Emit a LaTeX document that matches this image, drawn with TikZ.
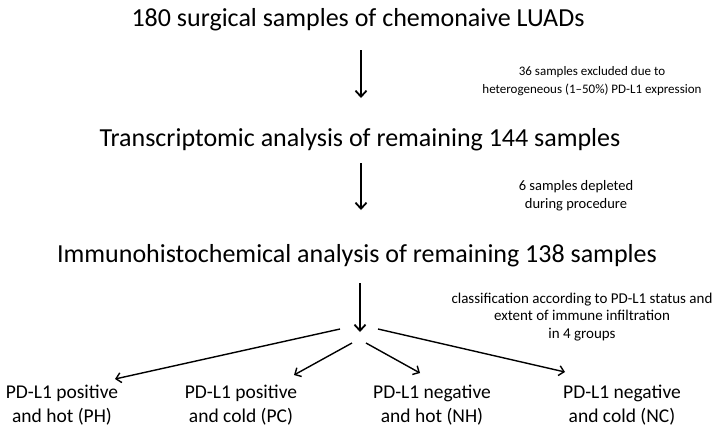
\documentclass[tikz,border=0pt]{standalone}
\usepackage{fontspec}
\setmainfont{Carlito}
\usetikzlibrary{arrows.meta}
\usetikzlibrary{positioning}

\begin{document}
\begin{tikzpicture}[x=1pt, y=-1pt,
		    every node/.style={inner sep=0pt, align=center},
		    stage/.style={anchor=base, font=\fontsize{26}{30}\selectfont},
		    remark/.style={anchor=base, font=\fontsize{14.5}{17.5}\selectfont},
		    group/.style={anchor=base, font=\fontsize{19.5}{24}\selectfont},
		    flow/.style={line width=1.8pt, -{Straight Barb[length=6pt,width=11pt]}},
		    branch/.style={line width=1.4pt, -{Straight Barb[length=5pt,width=10pt]}}]

\useasboundingbox (0,0) rectangle (721,432);

% stages
\node[stage] (surgical) at (358,26) {180 surgical samples of chemonaive LUADs};
\node[stage] (transcript) at (360,146) {Transcriptomic analysis of remaining 144 samples};
\node[stage] (immuno) at (357,262) {Immunohistochemical analysis of remaining 138 samples};

% remarks (base = last line)
\node[remark, font=\fontsize{13}{18}\selectfont] (excluded) at (592,93) {36 samples excluded due to\\heterogeneous (1--50\%) PD-L1 expression};
\node[remark] (depleted) at (576,208) {6 samples depleted\\during procedure};
\node[remark, font=\fontsize{15}{17.5}\selectfont] (classif) at (582,338) {classification according to PD-L1 status and\\extent of immune infiltration\\in 4 groups};

% groups
\node[group] (ph) at (62,422) {PD-L1 positive\\and hot (PH)};
\node[group] (pc) at (241,422) {PD-L1 positive\\and cold (PC)};
\node[group] (nh) at (432,422) {PD-L1 negative\\and hot (NH)};
\node[group] (nc) at (622,422) {PD-L1 negative\\and cold (NC)};

% arrow ends
\coordinate (a1) at (361,50);  \coordinate (b1) at (361,98);
\coordinate (a2) at (361,163); \coordinate (b2) at (361,210);
\coordinate (a3) at (360,283); \coordinate (b3) at (360,332);
\coordinate (sph) at (340,329); \coordinate (eph) at (115,379);
\coordinate (spc) at (352,343); \coordinate (epc) at (294,375);
\coordinate (snh) at (366,343); \coordinate (enh) at (420,373);
\coordinate (snc) at (378,329); \coordinate (enc) at (565,372);

\draw[flow] (a1) -- (b1);
\draw[flow] (a2) -- (b2);
\draw[flow] (a3) -- (b3);
\draw[branch] (sph) -- (eph);
\draw[branch] (spc) -- (epc);
\draw[branch] (snh) -- (enh);
\draw[branch] (snc) -- (enc);
\end{tikzpicture}
\end{document}
